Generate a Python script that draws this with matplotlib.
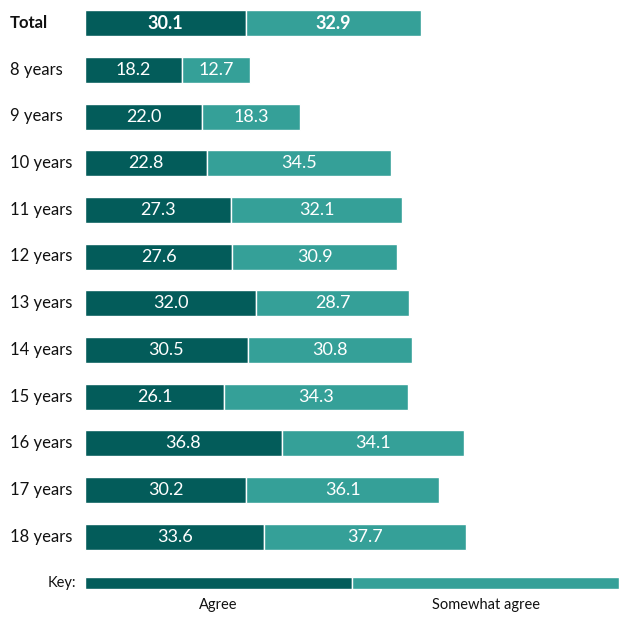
import numpy as np
import matplotlib
matplotlib.use("Agg")
import matplotlib.pyplot as plt

plt.rcParams['font.family'] = ['Lato', 'DejaVu Sans']

categories = ["Total", "8 years", "9 years", "10 years", "11 years", "12 years",
              "13 years", "14 years", "15 years", "16 years", "17 years", "18 years"]
agree = [30.1, 18.2, 22.0, 22.8, 27.3, 27.6, 32.0, 30.5, 26.1, 36.8, 30.2, 33.6]
somewhat = [32.9, 12.7, 18.3, 34.5, 32.1, 30.9, 28.7, 30.8, 34.3, 34.1, 36.1, 37.7]
series_names = ["Agree", "Somewhat agree"]

DARK = "#035c5a"
LIGHT = "#35a098"

W, H = 619, 641
fig = plt.figure(figsize=(W / 100, H / 100), dpi=100)

# main chart
ax = fig.add_axes([85 / W, (H - 560) / H, (W - 85) / W, 560 / H])
y = np.arange(len(categories))
ax.barh(y, agree, height=0.56, color=DARK, edgecolor="white", linewidth=1)
ax.barh(y, somewhat, left=agree, height=0.56, color=LIGHT, edgecolor="white", linewidth=1)
ax.set_xlim(0, 100)
ax.set_ylim(len(categories) - 0.5, -0.5)
ax.axis("off")

for i, cat in enumerate(categories):
    w = "bold" if i == 0 else "normal"
    fig.text(10 / W, 1 - (23 + 46.7 * i) / H, cat, fontsize=12, fontweight=w,
             va="center", ha="left", color="#111111")
    ax.text(agree[i] / 2, y[i], f"{agree[i]:.1f}", color="white", fontsize=13,
            fontweight=w, ha="center", va="center")
    ax.text(agree[i] + somewhat[i] / 2, y[i], f"{somewhat[i]:.1f}", color="white",
            fontsize=13, fontweight=w, ha="center", va="center")

# key
kax = fig.add_axes([85 / W, (H - 589) / H, (W - 85) / W, 12 / H])
kax.barh([0], [1], height=1, color=DARK, edgecolor="white", linewidth=1)
kax.barh([0], [1], left=[1], height=1, color=LIGHT, edgecolor="white", linewidth=1)
kax.set_xlim(0, 2)
kax.set_ylim(-0.5, 0.5)
kax.axis("off")
fig.text(76 / W, 1 - 583 / H, "Key:", fontsize=10.5, ha="right", va="center", color="#111111")
kax.text(0.5, -1.8, series_names[0], fontsize=10.5, ha="center", va="center", color="#111111")
kax.text(1.5, -1.8, series_names[1], fontsize=10.5, ha="center", va="center", color="#111111")

fig.savefig("out.png", dpi=100, facecolor="white")
